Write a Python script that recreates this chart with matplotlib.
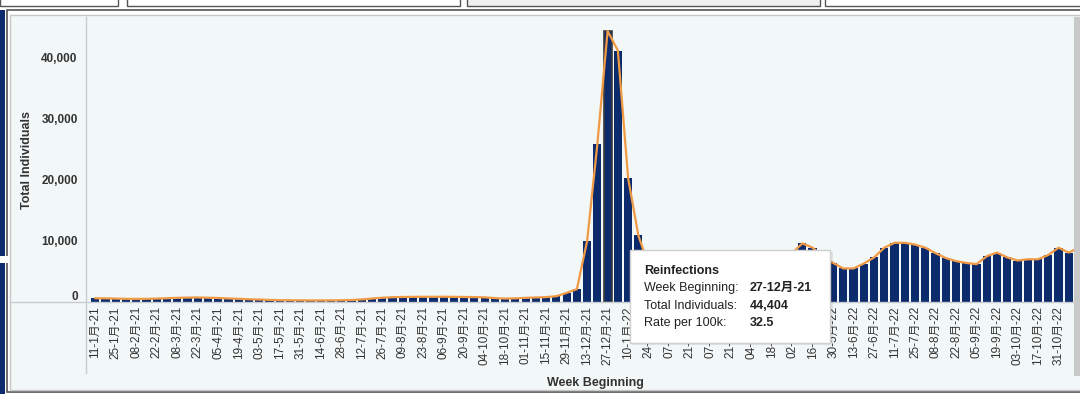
import matplotlib
matplotlib.use("Agg")
import matplotlib.pyplot as plt
import matplotlib.transforms as mtransforms
from matplotlib.patches import Rectangle
from matplotlib.lines import Line2D
from matplotlib.ticker import FuncFormatter
import pandas as pd

plt.rcParams['font.family'] = ['Liberation Sans', 'Noto Sans CJK SC', 'DejaVu Sans']

# weekly categories, 11-1-21 .. 14-11-22
weeks = pd.date_range('2021-01-11', periods=97, freq='7D')
week_labels = [f"{d.day:02d}-{d.month}月-{d.year % 100:02d}" for d in weeks]

# reinfections per week
individuals_2021 = [620, 600, 560, 520, 500, 520, 560, 620, 680, 720, 740, 700,
                    650, 580, 520, 450, 400, 340, 300, 280, 270, 260, 260, 270,
                    290, 330, 420, 560, 700, 780, 820, 840, 850, 850, 860, 840,
                    820, 800, 760, 640, 560, 600, 680, 740, 800, 950, 1500, 2100]
individuals_2022 = [10000, 25900, 44404, 41200, 20300, 10900, 6000, 5500, 5000,
                    4600, 4300, 4500, 5200, 6000, 6500, 6800, 6800, 6500, 6800,
                    7300, 8000, 9600, 8900, 7500, 6400, 5500, 5500, 6300, 7300,
                    8900, 9700, 9700, 9400, 8900, 8000, 7200, 6700, 6400, 6200,
                    7500, 8100, 7300, 6800, 7000, 7000, 7700, 8900, 8100, 8900]
individuals = individuals_2021 + individuals_2022

highlight = 50  # 27-12-21
tooltip_title = "Reinfections"
tooltip_keys = ["Week Beginning:", "Total Individuals:", "Rate per 100k:"]
tooltip_vals = ["27-12月-21", "44,404", "32.5"]

W, H = 1080, 394
fig = plt.figure(figsize=(W / 100, H / 100), dpi=100, facecolor='white')


def fx(x):
    return x / W


def fy(y):
    return 1 - y / H


def box(x0, y0, x1, y1, **kw):
    r = Rectangle((fx(x0), fy(y1)), (x1 - x0) / W, (y1 - y0) / H,
                  transform=fig.transFigure, **kw)
    fig.add_artist(r)
    return r


def hline(x0, x1, y, **kw):
    fig.add_artist(Line2D([fx(x0), fx(x1)], [fy(y), fy(y)], transform=fig.transFigure, **kw))


def vline(x, y0, y1, **kw):
    fig.add_artist(Line2D([fx(x), fx(x)], [fy(y0), fy(y1)], transform=fig.transFigure, **kw))


# page frame bits
box(0, -3, 118, 6, facecolor='white', edgecolor='#555555', lw=1, zorder=-2)
box(127, -3, 460, 6, facecolor='white', edgecolor='#555555', lw=1, zorder=-2)
box(467, -3, 820, 6, facecolor='#f0f0f0', edgecolor='#555555', lw=1, zorder=-2)
box(825, -3, 1085, 6, facecolor='white', edgecolor='#555555', lw=1, zorder=-2)
box(7, 10, 1090, 392, facecolor='white', edgecolor='#555555', lw=1.2, zorder=-2)
box(10, 15, 1090, 390, facecolor='#f2f7f7', edgecolor='#c8c8c8', lw=1, zorder=-1)
box(0, 10, 5, 394, facecolor='#0d2a6e', edgecolor='none', zorder=-1)
box(0, 256, 9, 263, facecolor='white', edgecolor='none', zorder=-1)

ax = fig.add_axes([fx(86), fy(302), (1078 - 86) / W, (302 - 17) / H])
ax.patch.set_alpha(0)

x = list(range(len(individuals)))
bars = ax.bar(x, individuals, width=0.8, color='#0c2b6d', edgecolor='none', zorder=2)
bars[highlight].set_edgecolor('#3a3a3a')
bars[highlight].set_linewidth(1.2)
ax.plot(x, individuals, color='#f09a45', lw=1.6, zorder=3, solid_joinstyle='round')

ax.set_xlim(-0.9, 95.9)
ax.set_ylim(0, 46700)
for s in ax.spines.values():
    s.set_visible(False)

ax.set_yticks([0, 10000, 20000, 30000, 40000])
ax.yaxis.set_major_formatter(FuncFormatter(lambda v, p: f"{int(v):,}"))
ax.tick_params(axis='y', length=0, pad=6, labelsize=8.5, labelcolor='#333333')
for lab in ax.get_yticklabels():
    lab.set_fontweight('bold')
# the "0" label sits a little above the axis line
zero_lab = ax.get_yticklabels()[0]
zero_lab.set_transform(zero_lab.get_transform() + mtransforms.ScaledTranslation(0, 6 / 100, fig.dpi_scale_trans))

# labels every second week, last one hidden under the scrollbar
ax.set_xticks(x[:95:2])
ax.set_xticklabels(week_labels[:95:2], rotation=90, fontsize=8.5, color='#333333')
ax.tick_params(axis='x', length=0, pad=3)

# axis lines
hline(10, 1074, 302, color='#c8ccd0', lw=1, zorder=1)
vline(86, 17, 373, color='#c8ccd0', lw=1, zorder=1)

fig.text(fx(27), fy(160), "Total Individuals", rotation=90, ha='center', va='center',
         fontsize=9, fontweight='bold', color='#333333')
fig.text(fx(595), fy(383), "Week Beginning", ha='center', va='center',
         fontsize=9, fontweight='bold', color='#333333')

# scrollbar
box(1074, 17, 1080, 376, facecolor='#c9c9c9', edgecolor='none', zorder=5)

# tooltip
box(632, 252, 833, 345, facecolor='#000000', alpha=0.08, edgecolor='none', zorder=9)
box(630, 250, 830, 343, facecolor='white', edgecolor='#cfcfcf', lw=1, zorder=10)
fig.text(fx(644), fy(271), tooltip_title, ha='left', va='center', fontsize=9,
         fontweight='bold', color='#222222', zorder=11)
for i, (k, v) in enumerate(zip(tooltip_keys, tooltip_vals)):
    yy = [288, 306, 323][i]
    fig.text(fx(644), fy(yy), k, ha='left', va='center', fontsize=9, color='#222222', zorder=11)
    fig.text(fx(750), fy(yy), v, ha='left', va='center', fontsize=9, fontweight='bold',
             color='#222222', zorder=11)

fig.savefig('out.png', dpi=100, facecolor='white')
